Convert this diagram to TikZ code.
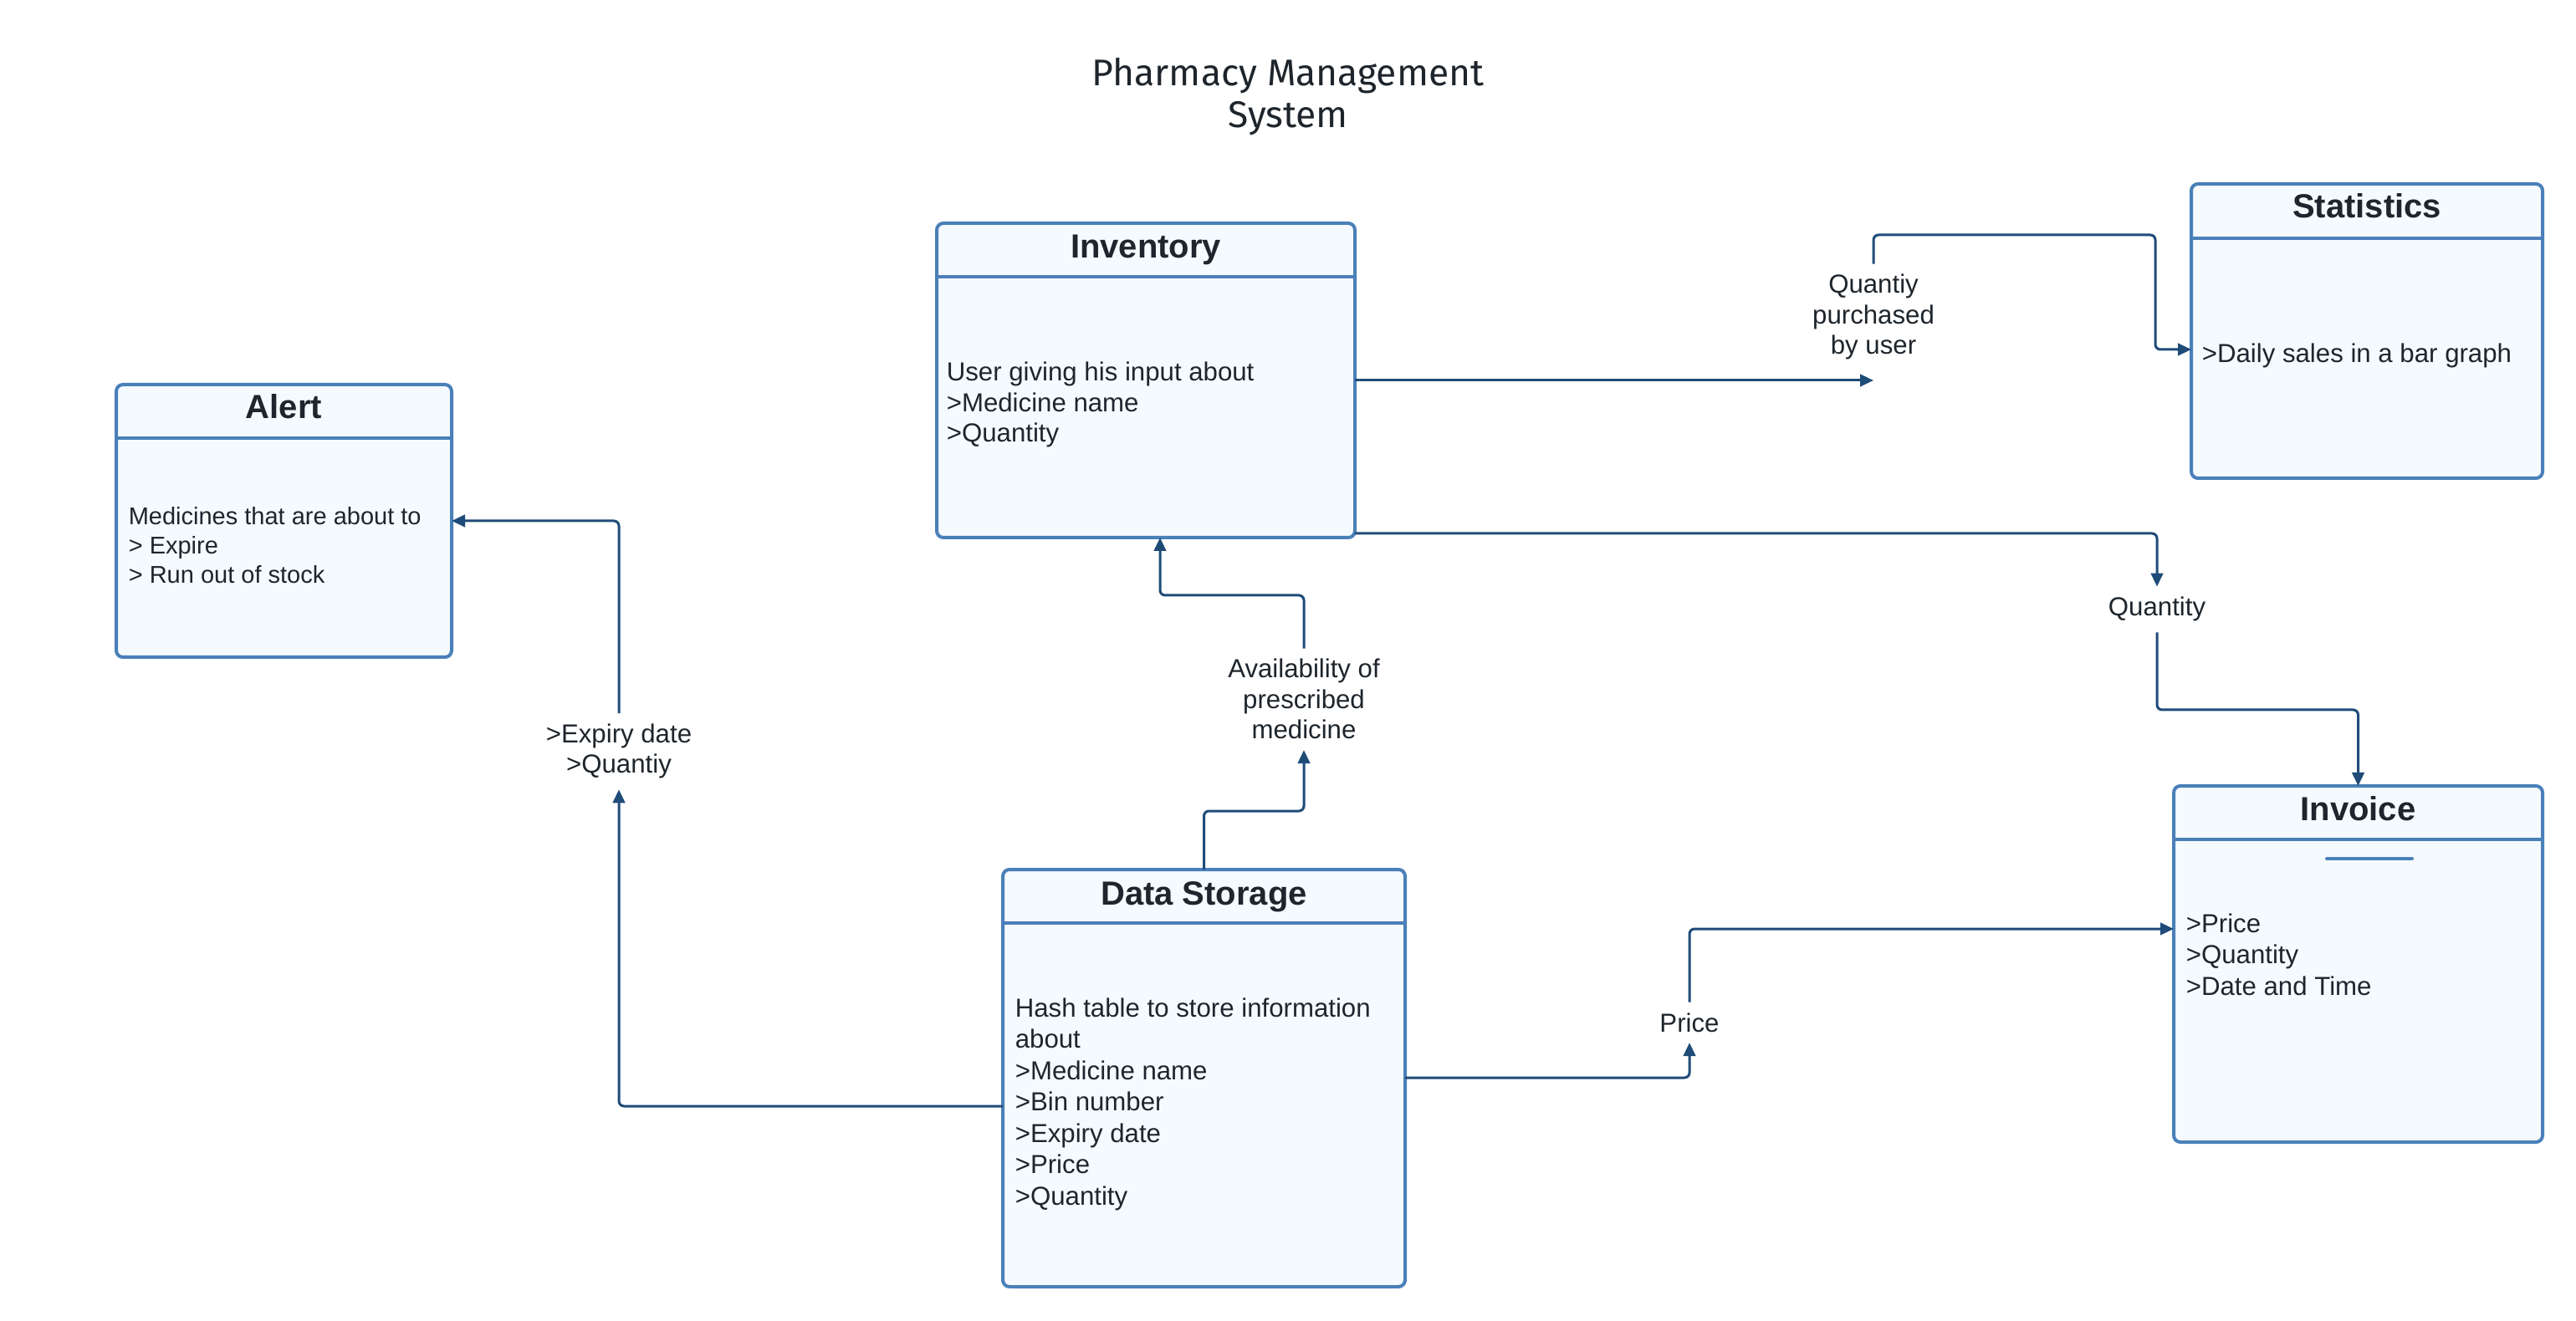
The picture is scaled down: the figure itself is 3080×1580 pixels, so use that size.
\documentclass[tikz,border=0pt]{standalone}
\usepackage{fontspec}
\setmainfont{Liberation Sans}
\newfontfamily\headfont{Fira Sans}
\usetikzlibrary{arrows.meta,calc}

\definecolor{boxline}{HTML}{4A80B9}
\definecolor{boxfill}{HTML}{F5FAFE}
\definecolor{wire}{HTML}{1F4B78}
\definecolor{ink}{HTML}{1E252C}

% multi-line nodes are placed by the baseline of their last line
\tikzset{
  umlbox/.style={draw=boxline, fill=boxfill, line width=1pt, rounded corners=2pt,
    inner sep=0pt, outer sep=0pt, anchor=north west},
  divider/.style={draw=boxline, line width=1pt},
  boxhead/.style={font=\fontsize{10}{12}\selectfont\bfseries, text=ink, anchor=base, inner sep=0pt},
  boxbody/.style={font=\fontsize{7.8}{9.125}\selectfont, text=ink, anchor=base west,
    align=left, inner sep=0pt},
  flowlabel/.style={font=\fontsize{7.8}{9.125}\selectfont, text=ink, anchor=base,
    align=center, inner sep=3pt},
  conn/.style={draw=wire, line width=0.75pt, rounded corners=1.5pt,
    -{Triangle[length=4pt,width=3.6pt]}},
}

\begin{document}
\begin{tikzpicture}[x=0.25pt, y=-0.25pt]
\useasboundingbox[fill=white] (0,0) rectangle (3080,1580);

% title
\node[font=\headfont\fontsize{11.1}{12.5}\selectfont, text=ink, anchor=base, align=center,
  inner sep=0pt] (title) at (1540,153) {Pharmacy Management\\System};

% Alert
\node[umlbox, minimum width=100.25pt, minimum height=81.5pt] (al) at (139,460) {};
\draw[divider] ($(al.north west)+(0,64)$) -- ($(al.north east)+(0,64)$);
\node[boxhead] (alT) at (339.5,501) {Alert};
\node[boxbody, font=\fontsize{7.25}{8.75}\selectfont] (alB) at (153,698)
  {Medicines that are about to\\> Expire\\> Run out of stock};

% Inventory
\node[umlbox, minimum width=125pt, minimum height=94pt] (inv) at (1120,267) {};
\draw[divider] ($(inv.north west)+(0,64)$) -- ($(inv.north east)+(0,64)$);
\node[boxhead] (invT) at (1370,309) {Inventory};
\node[boxbody] (invB) at (1131,529)
  {User giving his input about\\>Medicine name\\>Quantity};

% Statistics
\node[umlbox, minimum width=105pt, minimum height=88pt] (st) at (2620,220) {};
\draw[divider] ($(st.north west)+(0,65)$) -- ($(st.north east)+(0,65)$);
\node[boxhead] (stT) at (2830,261) {Statistics};
\node[boxbody] (stB) at (2632,434) {>Daily sales in a bar graph};

% Invoice
\node[umlbox, minimum width=110.25pt, minimum height=106.5pt] (iv) at (2599,940) {};
\draw[divider] ($(iv.north west)+(0,64)$) -- ($(iv.north east)+(0,64)$);
\node[boxhead] (ivT) at (2819.5,981) {Invoice};
\draw[boxline, line width=1pt, line cap=round] (2782,1027) -- (2884,1027);
\node[boxbody, font=\fontsize{7.8}{9.375}\selectfont] (ivB) at (2613,1190)
  {>Price\\>Quantity\\>Date and Time};

% Data Storage
\node[umlbox, minimum width=120.25pt, minimum height=124.75pt] (ds) at (1199,1040) {};
\draw[divider] ($(ds.north west)+(0,64)$) -- ($(ds.north east)+(0,64)$);
\node[boxhead] (dsT) at (1439.5,1082) {Data Storage};
\node[boxbody, font=\fontsize{7.8}{9.375}\selectfont] (dsB) at (1213,1441)
  {Hash table to store information\\about\\>Medicine name\\>Bin number\\>Expiry date\\>Price\\>Quantity};

% labels on the flows
\node[flowlabel] (qp) at (2240,424) {Quantiy\\purchased\\by user};
\node[flowlabel] (qt) at (2579,737) {Quantity};
\node[flowlabel] (av) at (1559,884) {Availability of\\prescribed\\medicine};
\node[flowlabel] (ex) at (740,925) {>Expiry date\\>Quantiy};
\node[flowlabel] (pr) at (2020,1234) {Price};

% flows
\draw[conn] (inv.east) -- (inv.east -| qp.south);
\draw[conn] (qp.north) |- (2577,281) |- (st.west |- 0,418);
\draw[conn] (inv.east |- 0,638) -| (qt.north);
\draw[conn] (qt.south) |- (2700,849) -| (iv.north);
\draw[conn] (ds.north) |- (1500,970) -| (av.south);
\draw[conn] (av.north) |- (1387,712) -- (inv.south -| 1387,0);
\draw[conn] (ds.west |- 0,1323) -| (ex.south);
\draw[conn] (ex.north) |- (al.east);
\draw[conn] (ds.east |- 0,1289) -| (pr.south);
\draw[conn] (pr.north) |- (iv.west |- 0,1111);
\end{tikzpicture}
\end{document}
